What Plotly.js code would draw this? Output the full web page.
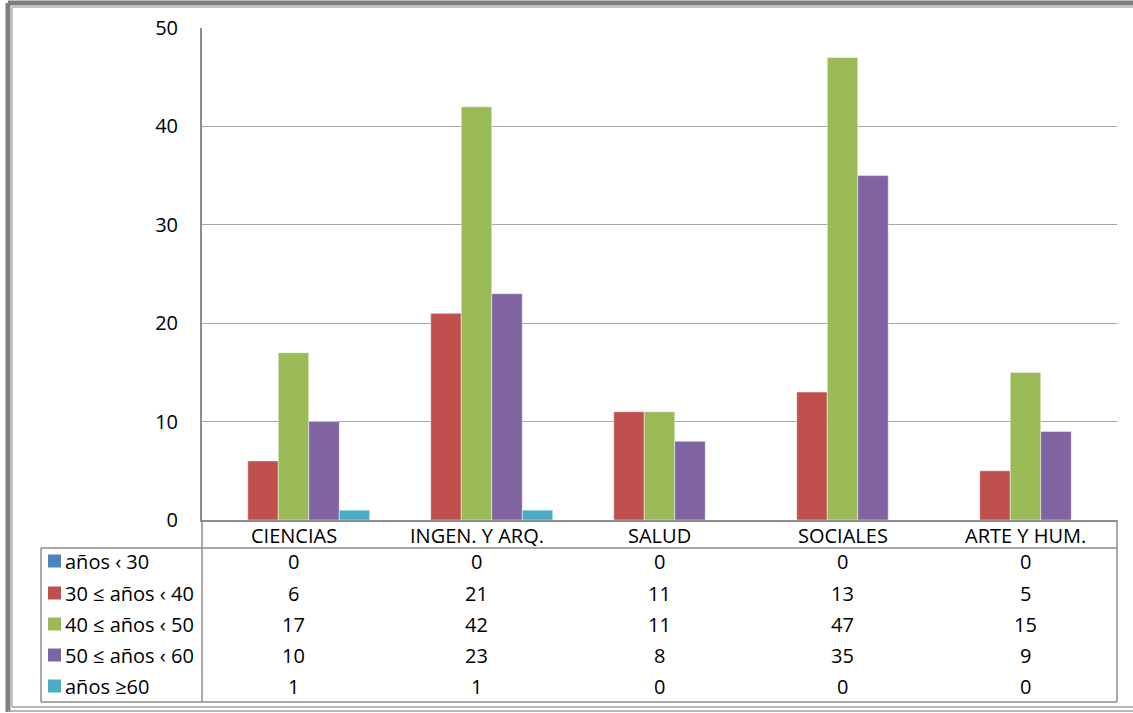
<!DOCTYPE html>
<html>
<head>
<meta charset="utf-8">
<script src="https://cdn.plot.ly/plotly-3.0.1.min.js"></script>
<style>html,body{margin:0;padding:0;background:#fff;}#chart{width:1133px;height:713px;}</style>
</head>
<body>
<div id="chart"></div>
<script>
// ---- data ----
const categories = ["CIENCIAS", "INGEN. Y ARQ.", "SALUD", "SOCIALES", "ARTE Y HUM."];
const seriesNames = ["años ‹ 30", "30 ≤ años ‹ 40", "40 ≤ años ‹ 50", "50 ≤ años ‹ 60", "años ≥60"];
const under30 = [0, 0, 0, 0, 0];
const from30to40 = [6, 21, 11, 13, 5];
const from40to50 = [17, 42, 11, 47, 15];
const from50to60 = [10, 23, 8, 35, 9];
const over60 = [1, 1, 0, 0, 0];
const seriesValues = [under30, from30to40, from40to50, from50to60, over60];
const colors = ["#4F81BD", "#C0504D", "#9BBB59", "#8064A2", "#4BACC6"];
const yTicks = [0, 10, 20, 30, 40, 50];

// ---- layout geometry (pixels) ----
const W = 1133, H = 713;
const L = 202, R = 1117, T = 28, B = 520;
const pw = R - L, ph = B - T;
const px = v => (v - L) / pw;
const py = v => (B - v) / ph;
const FONT = "Open Sans, Noto Sans, sans-serif";
const FS = 20;

const traces = seriesNames.map((n, i) => ({
  type: "bar",
  name: n,
  x: categories,
  y: seriesValues[i],
  marker: {color: colors[i], line: {color: "rgba(255,255,255,0.45)", width: 1}},
  showlegend: false,
  hoverinfo: "x+y+name"
}));

const rowY = [561, 593, 624, 655, 686];
const annotations = [];
const shapes = [];
seriesNames.forEach((n, i) => {
  annotations.push({
    xref: "paper", yref: "paper", x: px(63), y: py(rowY[i]),
    xanchor: "left", yanchor: "middle", text: n, showarrow: false,
    font: {family: FONT, size: FS, color: "#000"}
  });
  shapes.push({
    type: "rect", xref: "paper", yref: "paper",
    x0: px(48), x1: px(61), y0: py(rowY[i] - 6.5), y1: py(rowY[i] + 6.5),
    fillcolor: colors[i], line: {width: 0}
  });
  categories.forEach((c, j) => {
    annotations.push({
      xref: "x", yref: "paper", x: c, y: py(rowY[i]),
      xanchor: "center", yanchor: "middle", text: String(seriesValues[i][j]), showarrow: false,
      font: {family: FONT, size: FS, color: "#000"}
    });
  });
});
// category header row
categories.forEach(c => {
  annotations.push({
    xref: "x", yref: "paper", x: c, y: py(535),
    xanchor: "center", yanchor: "middle", text: c, showarrow: false,
    font: {family: FONT, size: FS, color: "#000"}
  });
});

const lineGrey = "#8c8c8c";
function seg(x0, y0, x1, y1, color, width) {
  shapes.push({type: "line", xref: "paper", yref: "paper",
    x0: px(x0), y0: py(y0), x1: px(x1), y1: py(y1),
    line: {color: color || lineGrey, width: width || 1.5}});
}
// data table grid
seg(L, B, L, 702);
seg(41, 548, R, 548);
seg(41, 702, R, 702);
seg(41, 548, 41, 702);
seg(R, B, R, 702);
// outer frame
seg(8, 3, 1140, 3, "#7f7f7f", 5);
seg(8, 3, 8, 712, "#7f7f7f", 5);
seg(12, 7, 1140, 7, "#b0b0b0", 1.5);
seg(12, 7, 12, 707, "#b0b0b0", 1.5);
seg(12, 707, 1140, 707, "#a0a0a0", 1.5);
seg(8, 711, 1140, 711, "#a0a0a0", 1.5);

const layout = {
  width: W, height: H,
  margin: {l: L, r: W - R, t: T, b: H - B, pad: 0},
  paper_bgcolor: "#fff", plot_bgcolor: "#fff",
  barmode: "group", bargap: 1/6, bargroupgap: 0,
  font: {family: FONT, size: FS, color: "#000"},
  xaxis: {
    type: "category", showgrid: false, showline: true, linecolor: lineGrey, linewidth: 2,
    ticks: "", showticklabels: false, fixedrange: true
  },
  yaxis: {
    range: [0, 50], tickvals: yTicks, showgrid: true, gridcolor: "#a6a6a6", gridwidth: 1,
    showline: true, linecolor: lineGrey, linewidth: 2, zeroline: false, ticks: "",
    ticklabelstandoff: 18, tickfont: {family: FONT, size: FS, color: "#000"},
    fixedrange: true
  },
  annotations: annotations,
  shapes: shapes,
  showlegend: false
};

Plotly.newPlot("chart", traces, layout, {displayModeBar: false, staticPlot: true});
</script>
</body>
</html>
